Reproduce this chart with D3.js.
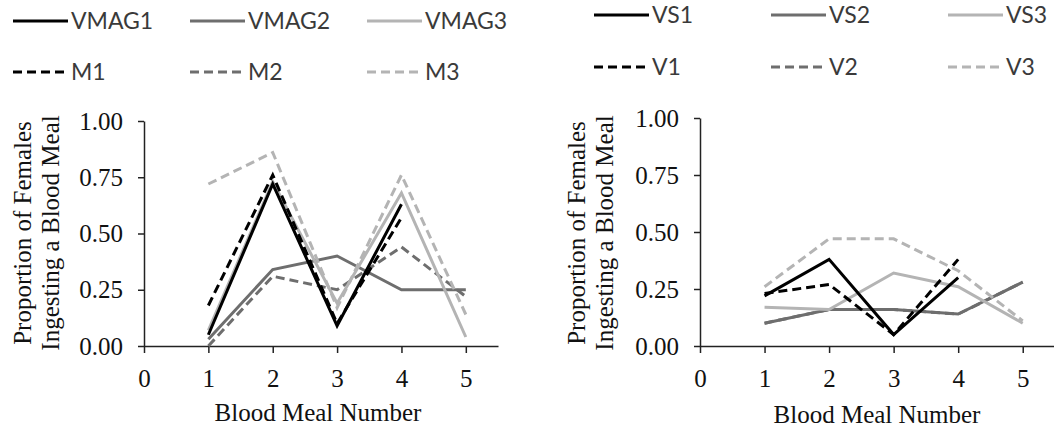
<!DOCTYPE html>
<head>
<meta charset="utf-8">
<title>Blood meal proportions</title>
<style>
  body { margin: 0; background: #fff; }
  .axis text { font-family: "Liberation Serif", "Times New Roman", serif; font-size: 25px; fill: #111; }
  .axis path, .axis line { stroke: #222; stroke-width: 1.5px; }
  .title { font-family: "Liberation Serif", serif; font-size: 25px; fill: #111; }
  .legend text { font-family: Lato, "Open Sans", sans-serif; font-size: 23px; fill: #3a3a3a; }
</style>
</head>
<body>
<svg width="1054" height="428"></svg>
<script src="https://d3js.org/d3.v7.min.js"></script>
<script>

var mealNumber = [1, 2, 3, 4, 5];
var xTicks = [0, 1, 2, 3, 4, 5];
var yTicks = [0, 0.25, 0.5, 0.75, 1];

// left panel
var VMAG1 = [0.05, 0.72, 0.09, 0.63, null];
var VMAG2 = [0.03, 0.34, 0.40, 0.25, 0.25];
var VMAG3 = [0.07, 0.73, 0.19, 0.68, 0.04];
var M1 = [0.18, 0.76, 0.10, 0.57, null];
var M2 = [0.00, 0.31, 0.25, 0.44, 0.22];
var M3 = [0.72, 0.86, 0.17, 0.76, 0.14];

// right panel
var VS1 = [0.22, 0.38, 0.05, 0.30, null];
var VS2 = [0.10, 0.16, 0.16, 0.14, 0.28];
var VS3 = [0.17, 0.16, 0.32, 0.26, 0.10];
var V1 = [0.23, 0.27, 0.05, 0.38, null];
var V2 = [0.10, 0.16, 0.16, 0.14, 0.28];
var V3 = [0.26, 0.47, 0.47, 0.33, 0.11];

var black = "#000", dark = "#6e6e6e", light = "#b4b4b4";

var svg = d3.select("svg");

function panel(opt) {
    var x = d3.scaleLinear().domain([0, 5.5]).range([opt.x0, opt.x1]);
    var y = d3.scaleLinear().domain([0, 1]).range([opt.y0, opt.y1]);

    svg.append("g")
        .attr("class", "axis")
        .attr("transform", "translate(0," + opt.y0 + ")")
        .call(d3.axisBottom(x).tickValues(xTicks).tickFormat(d3.format("d"))
            .tickSizeInner(7).tickSizeOuter(0).tickPadding(16));

    svg.append("g")
        .attr("class", "axis")
        .attr("transform", "translate(" + opt.x0 + ",0)")
        .call(d3.axisLeft(y).tickValues(yTicks).tickFormat(d3.format(".2f"))
            .tickSizeInner(6).tickSizeOuter(0).tickPadding(15));

    var line = d3.line()
        .defined(function(d) { return d != null; })
        .x(function(d, i) { return x(mealNumber[i]); })
        .y(function(d) { return y(d); });

    opt.series.forEach(function(s) {
        svg.append("path")
            .attr("d", line(s.values))
            .attr("fill", "none")
            .attr("stroke", s.color)
            .attr("stroke-width", 3)
            .attr("stroke-dasharray", s.dash ? "9,5" : null)
            .attr("stroke-linejoin", "miter");
    });

    // axis titles
    svg.append("text")
        .attr("class", "title")
        .attr("x", opt.xTitleX)
        .attr("y", opt.xTitleY)
        .attr("text-anchor", "middle")
        .text("Blood Meal Number");

    var yt = svg.append("g")
        .attr("transform", "translate(" + opt.yTitleX + "," + opt.yTitleY + ") rotate(-90)");
    yt.append("text").attr("class", "title").attr("text-anchor", "middle")
        .attr("y", 0).text("Proportion of Females");
    yt.append("text").attr("class", "title").attr("text-anchor", "middle")
        .attr("y", 28).text("Ingesting  a Blood Meal");

    // legend
    var lg = svg.append("g").attr("class", "legend");
    opt.legend.forEach(function(s, i) {
        var col = i % 3, row = Math.floor(i / 3);
        var lx = opt.legX[col], ly = opt.legY[row];
        lg.append("line")
            .attr("x1", lx).attr("x2", lx + 55)
            .attr("y1", ly).attr("y2", ly)
            .attr("stroke", s.color)
            .attr("stroke-width", 3)
            .attr("stroke-dasharray", s.dash ? "9,5" : null);
        lg.append("text")
            .attr("x", lx + 58)
            .attr("y", ly)
            .attr("dy", "0.36em")
            .text(s.name);
    });
}

var leftSeries = [
    {name: "VMAG1", values: VMAG1, color: black, dash: false},
    {name: "VMAG2", values: VMAG2, color: dark, dash: false},
    {name: "VMAG3", values: VMAG3, color: light, dash: false},
    {name: "M1", values: M1, color: black, dash: true},
    {name: "M2", values: M2, color: dark, dash: true},
    {name: "M3", values: M3, color: light, dash: true}
];

var rightSeries = [
    {name: "VS1", values: VS1, color: black, dash: false},
    {name: "VS2", values: VS2, color: dark, dash: false},
    {name: "VS3", values: VS3, color: light, dash: false},
    {name: "V1", values: V1, color: black, dash: true},
    {name: "V2", values: V2, color: dark, dash: true},
    {name: "V3", values: V3, color: light, dash: true}
];

panel({
    x0: 144, x1: 498, y0: 346, y1: 121,
    series: [leftSeries[1], leftSeries[4], leftSeries[2], leftSeries[5], leftSeries[0], leftSeries[3]],
    legend: leftSeries,
    legX: [13, 190, 367], legY: [21, 72],
    xTitleX: 318, xTitleY: 421,
    yTitleX: 31, yTitleY: 233
});

panel({
    x0: 700, x1: 1055, y0: 346, y1: 118,
    series: [rightSeries[4], rightSeries[1], rightSeries[2], rightSeries[5], rightSeries[0], rightSeries[3]],
    legend: rightSeries,
    legX: [594, 771, 948], legY: [15, 67],
    xTitleX: 877, xTitleY: 423,
    yTitleX: 585, yTitleY: 233
});

</script>
</body>
